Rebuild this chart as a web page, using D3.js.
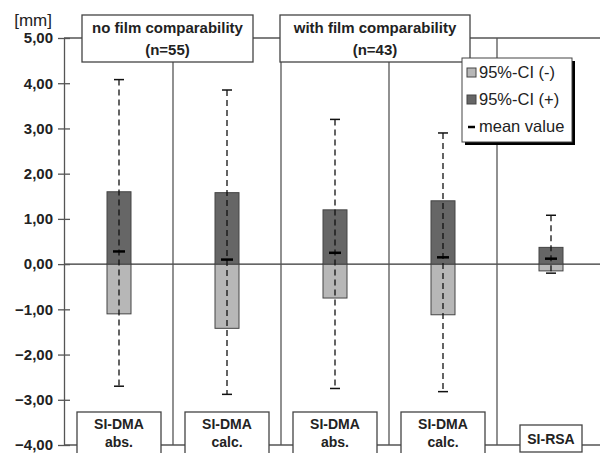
<!DOCTYPE html>
<html>
<head>
<meta charset="utf-8">
<script src="https://cdn.jsdelivr.net/npm/d3@7"></script>
<style>
  body { margin: 0; background: #fff; }
  text { font-family: Arial, "Liberation Sans", sans-serif; }
</style>
</head>
<body>
<div id="chart"></div>
<script>
// chart values
const categories = ["SI-DMA abs.", "SI-DMA calc.", "SI-DMA abs. ", "SI-DMA calc. ", "SI-RSA"];
const catLines = [["SI-DMA", "abs."], ["SI-DMA", "calc."], ["SI-DMA", "abs."], ["SI-DMA", "calc."], ["SI-RSA"]];
const ciLow = [-1.10, -1.42, -0.75, -1.12, -0.15];
const ciHigh = [1.60, 1.58, 1.20, 1.40, 0.37];
const whiskLow = [-2.70, -2.88, -2.75, -2.82, -0.20];
const whiskHigh = [4.08, 3.85, 3.20, 2.90, 1.08];
const means = [0.28, 0.10, 0.25, 0.15, 0.12];
const yTicks = [5, 4, 3, 2, 1, 0, -1, -2, -3, -4];
const groups = [
    {lines: ["no film comparability", "(n=55)"], first: 0, last: 1},
    {lines: ["with film comparability", "(n=43)"], first: 2, last: 3}
];
const legendItems = ["95%-CI (-)", "95%-CI (+)", "mean value"];

const lightGray = "#b7b7b7";
const darkGray = "#666";
const lineCol = "#555";

var svg = d3.select("#chart").append("svg")
    .attr("width", 600)
    .attr("height", 453);

var y = d3.scaleLinear().domain([-4, 5]).range([445, 38]);
var x = d3.scaleBand().domain(categories).range([65, 605]).padding(0);
var bw = 24;

//frame lines: top, bottom, zero
[5, -4, 0].forEach(function(v) {
    svg.append("line")
        .attr("x1", 64).attr("x2", 605)
        .attr("y1", y(v)).attr("y2", y(v))
        .attr("stroke", v == 0 ? "#333" : lineCol)
        .attr("stroke-width", 1.3);
});

//vertical separators between categories
categories.slice(1).forEach(function(c) {
    svg.append("line")
        .attr("x1", x(c)).attr("x2", x(c))
        .attr("y1", y(5)).attr("y2", y(-4))
        .attr("stroke", lineCol)
        .attr("stroke-width", 1.3);
});

//y axis
var yAxis = svg.append("g")
    .attr("transform", "translate(64,0)")
    .call(d3.axisLeft(y).tickValues(yTicks).tickSize(6).tickSizeOuter(0)
        .tickFormat(function(d) { return d3.format(".2f")(d).replace(".", ","); }));
yAxis.select(".domain").attr("stroke", lineCol).attr("stroke-width", 1.3);
yAxis.selectAll(".tick line").attr("x2", 6).attr("x1", -6).attr("stroke", lineCol).attr("stroke-width", 1.3);
yAxis.selectAll(".tick text")
    .attr("x", -11)
    .attr("font-size", 15)
    .attr("fill", "#222")
    .style("font-weight", "bold");

svg.append("text")
    .attr("x", 52).attr("y", 26)
    .attr("text-anchor", "end")
    .attr("font-size", 17)
    .attr("fill", "#222")
    .text("[mm]");

//boxes and whiskers
categories.forEach(function(c, i) {
    var cx = x(c) + x.bandwidth() / 2;
    svg.append("rect")
        .attr("x", cx - bw / 2).attr("width", bw)
        .attr("y", y(0)).attr("height", y(ciLow[i]) - y(0))
        .attr("fill", lightGray).attr("stroke", "#444").attr("stroke-width", 1);
    svg.append("rect")
        .attr("x", cx - bw / 2).attr("width", bw)
        .attr("y", y(ciHigh[i])).attr("height", y(0) - y(ciHigh[i]))
        .attr("fill", darkGray).attr("stroke", "#444").attr("stroke-width", 1);
    svg.append("line")
        .attr("x1", cx).attr("x2", cx)
        .attr("y1", y(whiskHigh[i])).attr("y2", y(whiskLow[i]))
        .attr("stroke", "#111").attr("stroke-width", 1.3)
        .attr("stroke-dasharray", "6,4");
    [whiskHigh[i], whiskLow[i]].forEach(function(v) {
        svg.append("line")
            .attr("x1", cx - 5).attr("x2", cx + 5)
            .attr("y1", y(v)).attr("y2", y(v))
            .attr("stroke", "#111").attr("stroke-width", 1.5);
    });
    svg.append("line")
        .attr("x1", cx - 6).attr("x2", cx + 6)
        .attr("y1", y(means[i])).attr("y2", y(means[i]))
        .attr("stroke", "#000").attr("stroke-width", 2.5);
});

//group title boxes
groups.forEach(function(g, gi) {
    var x0 = gi == 0 ? 82 : 280;
    var x1 = gi == 0 ? 253 : 470;
    svg.append("rect")
        .attr("x", x0).attr("y", 15).attr("width", x1 - x0).attr("height", 47)
        .attr("fill", "#fff").attr("stroke", "#444").attr("stroke-width", 1.3);
    g.lines.forEach(function(t, li) {
        svg.append("text")
            .attr("x", (x0 + x1) / 2).attr("y", 33 + li * 22)
            .attr("text-anchor", "middle")
            .attr("font-size", 15).attr("font-weight", "bold").attr("fill", "#222")
            .text(t);
    });
});

//category label boxes at the bottom
categories.forEach(function(c, i) {
    var cx = x(c) + x.bandwidth() / 2;
    var lines = catLines[i];
    var two = lines.length > 1;
    var w = two ? 84 : 62;
    var top = two ? 412 : 425;
    svg.append("rect")
        .attr("x", cx - w / 2).attr("y", top).attr("width", w).attr("height", two ? 48 : 27)
        .attr("fill", "#fff").attr("stroke", "#444").attr("stroke-width", 1.3);
    lines.forEach(function(t, li) {
        svg.append("text")
            .attr("x", cx).attr("y", top + (two ? 17 + li * 18 : 19))
            .attr("text-anchor", "middle")
            .attr("font-size", 14).attr("font-weight", "bold").attr("fill", "#222")
            .text(t);
    });
});

//legend with drop shadow
var lg = svg.append("g").attr("transform", "translate(462,58)");
lg.append("rect").attr("x", 3).attr("y", 3).attr("width", 110).attr("height", 84).attr("fill", "#000");
lg.append("rect").attr("width", 110).attr("height", 84)
    .attr("fill", "#fff").attr("stroke", "#444").attr("stroke-width", 1);
legendItems.forEach(function(t, i) {
    var yy = 14 + i * 27;
    if (i < 2) {
        lg.append("rect")
            .attr("x", 5).attr("y", yy - 4).attr("width", 9).attr("height", 9)
            .attr("fill", i == 0 ? lightGray : darkGray)
            .attr("stroke", "#444").attr("stroke-width", 1);
    } else {
        lg.append("line")
            .attr("x1", 6).attr("x2", 13).attr("y1", yy + 1).attr("y2", yy + 1)
            .attr("stroke", "#000").attr("stroke-width", 2.5);
    }
    lg.append("text")
        .attr("x", 17).attr("y", yy + 6)
        .attr("font-size", 16.5).attr("fill", "#222")
        .text(t);
});
</script>
</body>
</html>
